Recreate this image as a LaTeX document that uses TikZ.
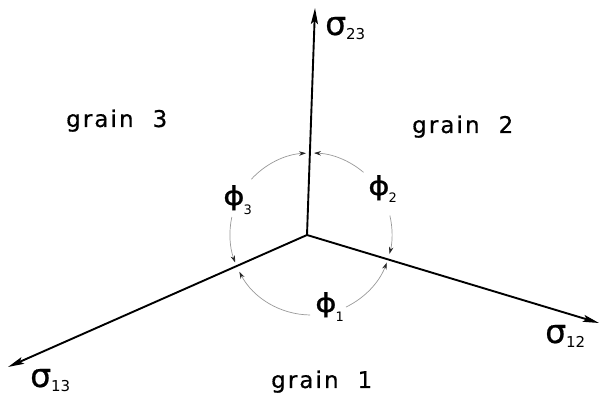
\documentclass[tikz,border=0pt]{standalone}
\usepackage{fontspec}
\setmainfont{DejaVu Sans}
\newfontfamily\grainfont[LetterSpace=9,FakeBold=0.6]{DejaVu Sans}
\newfontfamily\symbfont[FakeBold=0.6]{DejaVu Sans}
\usetikzlibrary{arrows.meta}
\newcommand{\sglabel}[1]{{\symbfont\fontsize{33}{33}\selectfont σ}\raisebox{-5pt}{\fontsize{15}{15}\selectfont #1}}
\newcommand{\phlabel}[2]{{\symbfont\fontsize{26}{26}\selectfont\scalebox{1.25}[1]{ϕ}}\hspace{-1pt}\raisebox{#2}{\fontsize{13}{13}\selectfont #1}}
\begin{document}
\begin{tikzpicture}[x=1pt,y=1pt,
  axis/.style={line width=1.9pt, -{Stealth[length=16pt,width=7pt,inset=3pt]}},
  dimarc/.style={line width=0.7pt, black!40, -{Stealth[length=7pt,width=4.5pt,color=black!85]}},
  grainlbl/.style={font=\grainfont\fontsize{23}{23}\selectfont, anchor=base west, inner sep=0pt},
  sym/.style={anchor=base west, inner sep=0pt}]
\useasboundingbox (0,0) rectangle (600,396);
\coordinate (C) at (307,161);
\coordinate (T) at (315,388);
\coordinate (R) at (599,73);
\coordinate (L) at (8,29);
\coordinate (O) at (311,162);
\draw[axis] (C) -- (T);
\draw[axis] (C) -- (R);
\draw[axis] (C) -- (L);
% angle phi2
\draw[dimarc] (O) ++(49.6:81pt) arc[start angle=49.6, end angle=87.9, radius=81pt];
\draw[dimarc] (O) ++(13.2:81pt) arc[start angle=13.2, end angle=-14.2, radius=81pt];
% angle phi1
\draw[dimarc] (O) ++(-64.4:81pt) arc[start angle=-64.4, end angle=-20.7, radius=81pt];
\draw[dimarc] (O) ++(-90.7:81pt) arc[start angle=-90.7, end angle=-152.2, radius=81pt];
% angle phi3
\draw[dimarc] (O) ++(167.9:81pt) arc[start angle=167.9, end angle=200.6, radius=81pt];
\draw[dimarc] (O) ++(137.4:81pt) arc[start angle=137.4, end angle=93.5, radius=81pt];
% labels
\node[sym] (s23) at (325,361) {\sglabel{23}};
\node[sym] (s12) at (545,53) {\sglabel{12}};
\node[sym] (s13) at (30,9) {\sglabel{13}};
\node[sym] (p2) at (368,201) {\phlabel{2}{-8pt}};
\node[sym] (p1) at (315,84) {\phlabel{1}{-10pt}};
\node[sym] (p3) at (223,191) {\phlabel{3}{-10pt}};
\node[grainlbl] (g3) at (66,269) {grain\hspace{19pt}3};
\node[grainlbl] (g2) at (412,263) {grain\hspace{19pt}2};
\node[grainlbl] (g1) at (271,8) {grain\hspace{19pt}1};
\end{tikzpicture}
\end{document}
